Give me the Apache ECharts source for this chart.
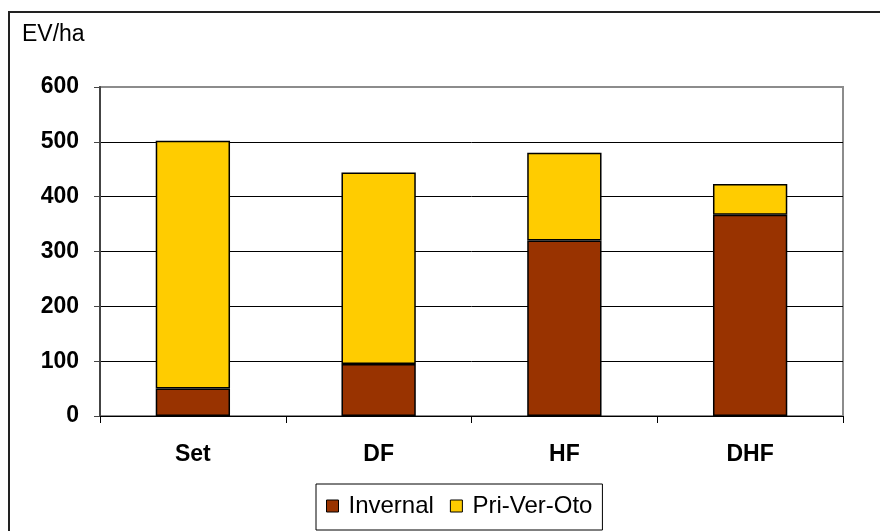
<!DOCTYPE html>
<html>
<head>
<meta charset="utf-8">
<script src="https://cdn.jsdelivr.net/npm/echarts@6/dist/echarts.min.js"></script>
<style>
  html, body { margin: 0; padding: 0; background: #fff; }
  #chart { width: 880px; height: 531px; }
</style>
</head>
<body>
<div id="chart"></div>
<script>
// Land treatments on the x axis
const categories = ['Set', 'DF', 'HF', 'DHF'];
// Values per season group (EV/ha), stacked
const invernal = [50, 95, 320, 367];
const priVerOto = [452, 349, 160, 56];
const seriesNames = ['Invernal', 'Pri-Ver-Oto'];
const yTicks = { min: 0, max: 600, interval: 100 };

const FONT = 'Liberation Sans, Arial, sans-serif';

const chart = echarts.init(document.getElementById('chart'), null, { renderer: 'canvas' });

chart.setOption({
  animation: false,
  backgroundColor: '#ffffff',
  grid: {
    left: 100, right: 37, top: 87, bottom: 115,
    show: true,
    borderColor: '#8c8c8c',
    borderWidth: 2,
    backgroundColor: 'transparent'
  },
  graphic: [
    {
      type: 'rect',
      z: -1,
      shape: { x: 9, y: 12, width: 900, height: 600 },
      style: { fill: 'none', stroke: '#222', lineWidth: 2 }
    },
    {
      type: 'text',
      left: 22, top: 23,
      style: { text: 'EV/ha', font: '23px ' + FONT, fill: '#000' }
    }
  ],
  legend: {
    data: seriesNames,
    left: 316, top: 484,
    padding: [10, 10, 12, 10],
    borderColor: '#000',
    borderWidth: 1,
    itemWidth: 12, itemHeight: 12,
    itemGap: 16,
    icon: 'rect',
    itemStyle: { borderColor: '#000', borderWidth: 1 },
    textStyle: { fontFamily: FONT, fontSize: 24, color: '#000', padding: [0, 0, 0, 5] }
  },
  xAxis: {
    type: 'category',
    data: categories,
    axisLine: { lineStyle: { color: '#000', width: 1 } },
    axisTick: { show: true, length: 7, lineStyle: { color: '#000' } },
    axisLabel: { margin: 27, fontFamily: FONT, fontSize: 23, fontWeight: 'bold', color: '#000' }
  },
  yAxis: {
    type: 'value',
    min: yTicks.min, max: yTicks.max, interval: yTicks.interval,
    axisLine: { show: true, lineStyle: { color: '#444', width: 2 } },
    axisTick: { show: true, length: 6, lineStyle: { color: '#444' } },
    axisLabel: { margin: 21, fontFamily: FONT, fontSize: 23, fontWeight: 'bold', color: '#000' },
    splitLine: { show: true, showMaxLine: false, lineStyle: { color: '#000', width: 1 } }
  },
  series: [
    {
      name: seriesNames[0], type: 'bar', stack: 'total', data: invernal,
      barWidth: '40%',
      itemStyle: { color: '#993300', borderColor: '#000', borderWidth: 1.5 }
    },
    {
      name: seriesNames[1], type: 'bar', stack: 'total', data: priVerOto,
      barWidth: '40%',
      itemStyle: { color: '#ffcc00', borderColor: '#000', borderWidth: 1.5 }
    }
  ]
});
</script>
</body>
</html>
